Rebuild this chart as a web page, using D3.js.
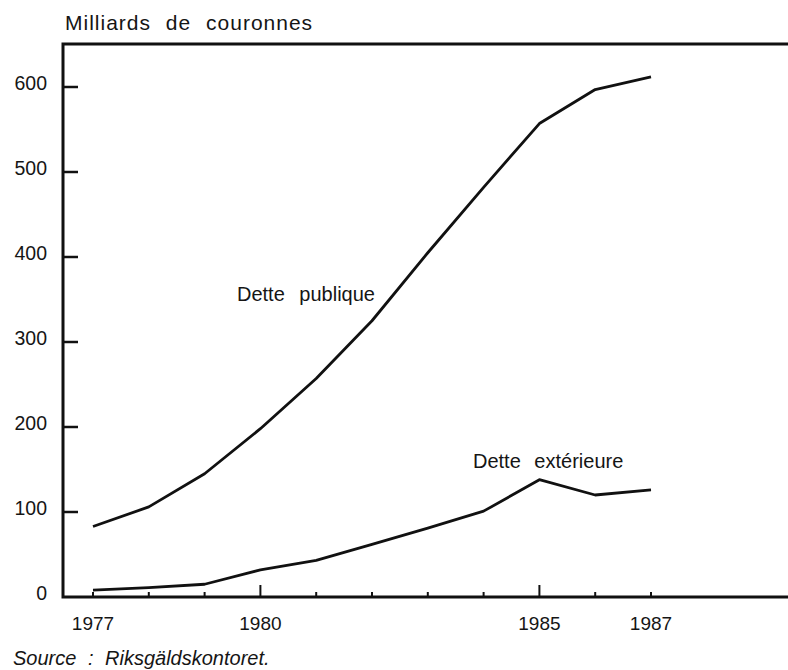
<!DOCTYPE html>
<html>
<head>
<meta charset="utf-8">
<script src="https://cdn.jsdelivr.net/npm/d3@7"></script>
<style>
  body { margin: 0; background: #fff; }
  text { font-family: "Liberation Sans", Arial, sans-serif; fill: #151515; }
</style>
</head>
<body>
<div id="chart"></div>
<script>
// years on the x axis
const years = [1977, 1978, 1979, 1980, 1981, 1982, 1983, 1984, 1985, 1986, 1987]
// milliards de couronnes
const dettePublique = [83, 106, 145, 198, 257, 325, 405, 482, 557, 597, 612]
const detteExterieure = [8, 11, 15, 32, 43, 62, 81, 101, 138, 120, 126]
const yTicks = [0, 100, 200, 300, 400, 500, 600]
const xLabels = [1977, 1980, 1985, 1987]
const majorYears = [1980, 1985]

const chart = {width: 788, height: 670, left: 63, top: 44, bottom: 597}

const xScale = d3.scaleLinear()
    .domain([1977, 1987])
    .range([93, 651])

const yScale = d3.scaleLinear()
    .domain([0, 600])
    .range([chart.bottom, 87])

const svg = d3.select('#chart')
    .append('svg')
    .attr('width', chart.width)
    .attr('height', chart.height)

// frame: top line, left axis, bottom axis
svg.append('path')
    .attr('d', `M${chart.width},${chart.top} H${chart.left} V${chart.bottom} H${chart.width}`)
    .attr('fill', 'none')
    .attr('stroke', '#111')
    .attr('stroke-width', 3)

// y ticks, pointing inwards
svg.selectAll('.ytick')
    .data(yTicks.filter(d => d > 0))
    .join('line')
        .attr('class', 'ytick')
        .attr('x1', chart.left)
        .attr('x2', chart.left + 15)
        .attr('y1', d => yScale(d))
        .attr('y2', d => yScale(d))
        .attr('stroke', '#111')
        .attr('stroke-width', 2.5)

svg.selectAll('.ylabel')
    .data(yTicks)
    .join('text')
        .attr('class', 'ylabel')
        .attr('x', 47)
        .attr('y', d => yScale(d) + 3)
        .attr('text-anchor', 'end')
        .style('font-size', '19.5px')
        .text(d => d)

// x ticks, pointing upwards
svg.selectAll('.xtick')
    .data(years)
    .join('line')
        .attr('class', 'xtick')
        .attr('x1', d => xScale(d))
        .attr('x2', d => xScale(d))
        .attr('y1', chart.bottom)
        .attr('y2', d => majorYears.includes(d) ? chart.bottom - 12 : chart.bottom - 5)
        .attr('stroke', '#111')
        .attr('stroke-width', 2)

svg.selectAll('.xlabel')
    .data(xLabels)
    .join('text')
        .attr('class', 'xlabel')
        .attr('x', d => xScale(d))
        .attr('y', 630)
        .attr('text-anchor', 'middle')
        .style('font-size', '19px')
        .text(d => d)

const line = d3.line()
    .x((d, i) => xScale(years[i]))
    .y(d => yScale(d))

svg.append('path')
    .datum(dettePublique)
    .attr('d', line)
    .attr('fill', 'none')
    .attr('stroke', '#111')
    .attr('stroke-width', 2.8)
    .attr('stroke-linejoin', 'round')

svg.append('path')
    .datum(detteExterieure)
    .attr('d', line)
    .attr('fill', 'none')
    .attr('stroke', '#111')
    .attr('stroke-width', 2.8)
    .attr('stroke-linejoin', 'round')

// titles and labels
svg.append('text')
    .attr('x', 65)
    .attr('y', 30)
    .style('font-size', '21px')
    .style('letter-spacing', '1px')
    .style('word-spacing', '8px')
    .text('Milliards de couronnes')

svg.append('text')
    .attr('x', 237)
    .attr('y', 301)
    .style('font-size', '20px')
    .style('word-spacing', '9px')
    .text('Dette publique')

svg.append('text')
    .attr('x', 473)
    .attr('y', 468)
    .style('font-size', '20px')
    .style('word-spacing', '8px')
    .text('Dette extérieure')

svg.append('text')
    .attr('x', 13)
    .attr('y', 665)
    .style('font-size', '20px')
    .style('font-style', 'italic')
    .style('word-spacing', '6px')
    .text('Source : Riksgäldskontoret.')
</script>
</body>
</html>
